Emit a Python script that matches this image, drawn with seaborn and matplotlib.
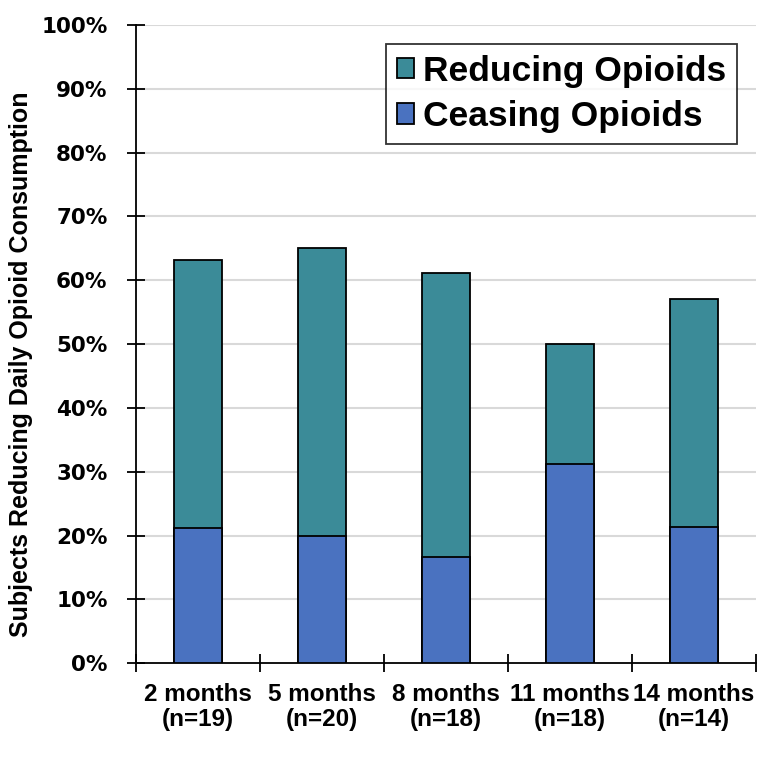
import matplotlib
matplotlib.use("Agg")
import matplotlib.pyplot as plt
import seaborn as sns
import pandas as pd
from matplotlib.patches import Patch
from matplotlib.ticker import FixedLocator

# data (percent of subjects)
categories = ["2 months\n(n=19)", "5 months\n(n=20)", "8 months\n(n=18)",
              "11 months\n(n=18)", "14 months\n(n=14)"]
ceasing = [21.1, 20.0, 16.7, 31.2, 21.4]
reducing = [42.1, 45.0, 44.4, 18.8, 35.7]

teal = "#3B8B98"
blue = "#4A72C0"

sns.set_style("white")
plt.rcParams['font.family'] = ['Liberation Sans', 'DejaVu Sans']
plt.rcParams['text.color'] = 'black'
plt.rcParams['axes.labelcolor'] = 'black'
plt.rcParams['xtick.color'] = 'black'
plt.rcParams['ytick.color'] = 'black'

df = pd.DataFrame({"cat": categories, "ceasing": ceasing, "reducing": reducing})
df["total"] = df["ceasing"] + df["reducing"]

fig, ax = plt.subplots(figsize=(7.68, 7.57), dpi=100)
fig.subplots_adjust(left=0.177, right=0.984, top=0.967, bottom=0.124)

for y in range(10, 101, 10):
    ax.axhline(y, color="#d9d9d9", lw=1.5, zorder=0)

# stacked bars: total (reducing on top) drawn first, ceasing over it
sns.barplot(data=df, x="cat", y="total", color=teal, width=0.39,
            edgecolor="black", linewidth=1.3, saturation=1, ax=ax, zorder=2)
sns.barplot(data=df, x="cat", y="ceasing", color=blue, width=0.39,
            edgecolor="black", linewidth=1.3, saturation=1, ax=ax, zorder=3)

ax.set_ylim(0, 100)
ax.set_xlim(-0.5, len(categories) - 0.5)
ax.set_yticks(range(0, 101, 10))
ax.set_yticklabels([f"{v}%" for v in range(0, 101, 10)],
                   fontsize=15.5, fontweight="bold", family="DejaVu Sans")
ax.set_xticks(range(len(categories)))
ax.set_xticklabels(categories, fontsize=17.5, fontweight="bold", linespacing=1.15)
ax.xaxis.set_minor_locator(FixedLocator([i - 0.5 for i in range(len(categories) + 1)]))
ax.tick_params(axis="x", which="major", bottom=False, length=0, pad=14)
ax.tick_params(axis="x", which="minor", bottom=True, direction="inout", length=13, width=1.3)
ax.tick_params(axis="y", left=True, direction="inout", length=13, width=1.3, pad=14)

ax.set_xlabel("")
ax.set_ylabel("Subjects Reducing Daily Opioid Consumption", fontsize=18,
              fontweight="bold")
ax.yaxis.set_label_coords(-0.166, 0.468)

for s in ["top", "right"]:
    ax.spines[s].set_visible(False)
for s in ["left", "bottom"]:
    ax.spines[s].set_linewidth(1.3)
    ax.spines[s].set_color("black")

handles = [Patch(facecolor=teal, edgecolor="black", lw=1.3, label="Reducing Opioids"),
           Patch(facecolor=blue, edgecolor="black", lw=1.3, label="Ceasing Opioids")]
leg = ax.legend(handles=handles, loc="upper right", bbox_to_anchor=(0.97, 0.97),
                prop={"size": 25.5, "weight": "bold"}, frameon=True, fancybox=False,
                handlelength=0.5, handleheight=0.5, handletextpad=0.25,
                borderpad=0.3, labelspacing=0.35, borderaxespad=0)
leg.get_frame().set_edgecolor("black")
leg.get_frame().set_linewidth(1.3)

fig.savefig("out.png", dpi=100)
